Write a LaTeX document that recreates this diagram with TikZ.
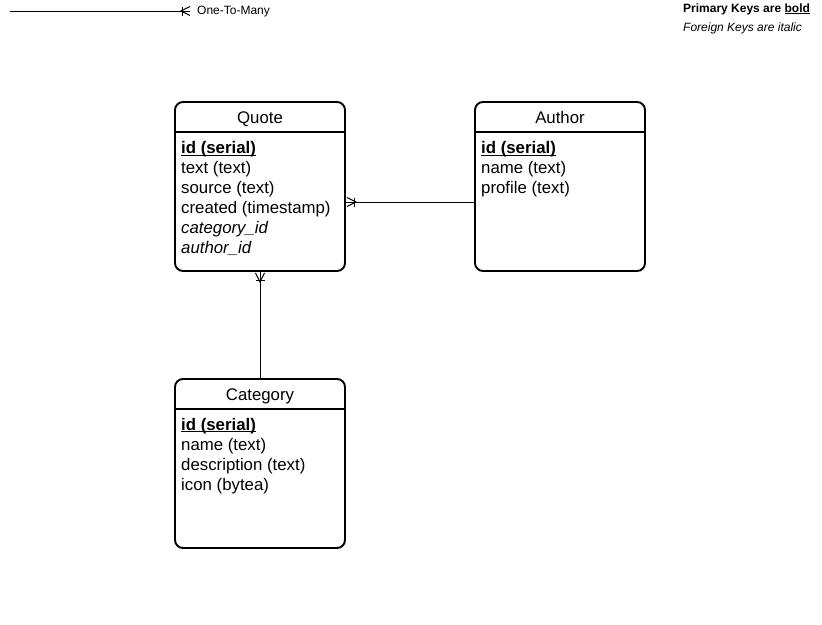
\documentclass[tikz,border=0pt]{standalone}
\usepackage{fontspec}
\setmainfont{Liberation Sans}
\usetikzlibrary{calc}
\newcommand\ulx[3]{\setbox0\hbox{#1}\rlap{\rule[#2]{\wd0}{#3}}\box0}
\tikzset{
  entity/.style={draw, line width=1.9pt, rounded corners=8pt, minimum width=170pt, minimum height=169pt, inner sep=0pt},
  sepline/.style={line width=1.9pt},
  title/.style={anchor=base, font=\fontsize{16.8}{20}\selectfont, inner sep=0pt},
  row/.style={anchor=base west, font=\fontsize{16.8}{20}\selectfont, inner sep=0pt},
  small/.style={anchor=base west, font=\fontsize{12}{14}\selectfont, inner sep=0pt},
  rel/.style={line width=1pt},
  crow/.pic={\draw[line width=1pt] (0,-4.5) -- (9,0) -- (0,4.5); \draw[line width=1pt] (8,-4.5) -- (8,4.5);}
}
\begin{document}
\begin{tikzpicture}[x=1pt,y=-1pt]
\useasboundingbox (0,0) rectangle (822,624);
% legend
\coordinate (l1) at (10,11);
\coordinate (l2) at (190,11);
\draw[rel] (l1) -- (l2);
\pic[rotate=180] at (l2) {crow};
\node[small] (lg) at (197,14) {One-To-Many};
\node[small] (pk) at (683,12) {\textbf{Primary Keys are \ulx{bold}{-1.8pt}{1pt}}};
\node[small] (fk) at (683,31) {\textit{Foreign Keys are italic}};
% entities
\node[entity] (quote) at (260,186.5) {};
\node[entity] (author) at (560,186.5) {};
\node[entity] (category) at (260,463.5) {};
\draw[sepline] (quote.west |- 0,132) -- (quote.east |- 0,132);
\draw[sepline] (author.west |- 0,132) -- (author.east |- 0,132);
\draw[sepline] (category.west |- 0,409) -- (category.east |- 0,409);
% Quote
\node[title] (qt) at (260,123) {Quote};
\node[row] (q1) at (181,153.5) {\textbf{\ulx{id (serial)}{-2.4pt}{1.4pt}}};
\node[row] (q2) at (181,173.5) {text (text)};
\node[row] (q3) at (181,193.5) {source (text)};
\node[row] (q4) at (181,213.5) {created (timestamp)};
\node[row] (q5) at (181,233.5) {\textit{category\_id}};
\node[row] (q6) at (181,253.5) {\textit{author\_id}};
% Author
\node[title] (at) at (560,123) {Author};
\node[row] (a1) at (481,153.5) {\textbf{\ulx{id (serial)}{-2.4pt}{1.4pt}}};
\node[row] (a2) at (481,173.5) {name (text)};
\node[row] (a3) at (481,193.5) {profile (text)};
% Category
\node[title] (ct) at (260,400) {Category};
\node[row] (c1) at (181,430) {\textbf{\ulx{id (serial)}{-2.4pt}{1.4pt}}};
\node[row] (c2) at (181,450) {name (text)};
\node[row] (c3) at (181,470) {description (text)};
\node[row] (c4) at (181,490) {icon (bytea)};
% relations
\coordinate (ya) at (0,202);
\draw[rel] (author.west |- ya) -- (quote.east |- ya);
\pic at ($(quote.east |- ya)+(1,0)$) {crow};
\draw[rel] (category.north) -- (quote.south);
\pic[rotate=-90] at ($(quote.south)+(0,1)$) {crow};
\end{tikzpicture}
\end{document}
